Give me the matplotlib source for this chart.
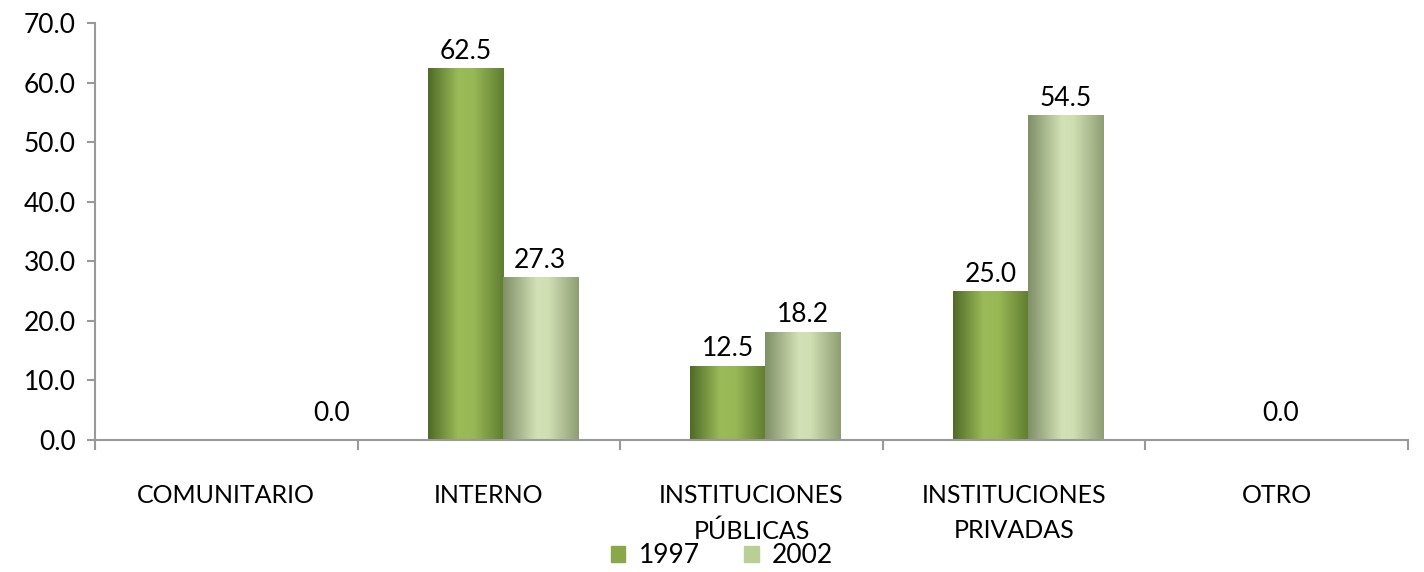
import numpy as np
import matplotlib
matplotlib.use("Agg")
import matplotlib.pyplot as plt
from matplotlib.colors import LinearSegmentedColormap

# data
categories = ["COMUNITARIO", "INTERNO", "INSTITUCIONES\nPÚBLICAS", "INSTITUCIONES\nPRIVADAS", "OTRO"]
years = ["1997", "2002"]
vals_1997 = [np.nan, 62.5, 12.5, 25.0, np.nan]
vals_2002 = [0.0, 27.3, 18.2, 54.5, 0.0]
yticks = [0, 10, 20, 30, 40, 50, 60, 70]

plt.rcParams["font.family"] = ["Lato", "DejaVu Sans"]

# cylinder-like shading for each series
cmap_97 = LinearSegmentedColormap.from_list(
    "c97", [(0, "#4f6a26"), (0.4, "#9bbb59"), (0.6, "#98b856"), (1, "#5f7d2f")])
cmap_02 = LinearSegmentedColormap.from_list(
    "c02", [(0, "#7f8f66"), (0.45, "#d3e2b6"), (0.6, "#d0dfb2"), (1, "#8e9e74")])
legend_cols = ["#8aa84a", "#b9cf93"]

fig = plt.figure(figsize=(14.24, 5.72), dpi=100)
ax = fig.add_axes([0.0667, 0.2308, 0.9221, 0.729])

n = len(categories)
centers = np.arange(n) + 0.5
shift = 0.053
w = 0.286

grad = np.linspace(0, 1, 256).reshape(1, -1)
series = [(vals_1997, cmap_97, -w / 2), (vals_2002, cmap_02, w / 2)]
for k, (vals, cm, off) in enumerate(series):
    xs = centers + shift + off
    hv = np.nan_to_num(vals)
    bars = ax.bar(xs, hv, width=w, color="none", edgecolor="none", zorder=2)
    for b, v in zip(bars, hv):
        if v <= 0:
            continue
        x0 = b.get_x()
        im = ax.imshow(grad, cmap=cm, aspect="auto", extent=[x0, x0 + w, 0, v],
                       interpolation="bicubic", zorder=2)
        im.set_clip_path(b)

# value labels (zero labels nudged sideways as in the source)
nudge = {0: 54, 4: -48}
for vals, off in [(vals_1997, -w / 2), (vals_2002, w / 2)]:
    for i, v in enumerate(vals):
        if np.isnan(v):
            continue
        dx = nudge.get(i, 0) * 0.72 if v == 0 else 0
        dy = 10 if v == 0 else 3
        ax.annotate(f"{v:.1f}", (centers[i] + shift + off, v), xytext=(dx, dy),
                    textcoords="offset points", ha="center", va="bottom", fontsize=19)

ax.set_xlim(0, n)
ax.set_ylim(0, 70)
ax.set_yticks(yticks)
ax.set_yticklabels([f"{t:.1f}" for t in yticks], fontsize=19)
ax.set_xticks(np.arange(n + 1))
ax.set_xticklabels([])
ax.set_xticks(centers, minor=True)
ax.set_xticklabels(categories, minor=True, fontsize=18, linespacing=1.6)
ax.tick_params(axis="x", which="major", length=7, color="#999999", width=1.5, direction="out")
ax.tick_params(axis="x", which="minor", length=0, pad=32)
ax.tick_params(axis="y", length=6, color="#999999", width=1.5, pad=8)

for s in ["top", "right"]:
    ax.spines[s].set_visible(False)
for s in ["left", "bottom"]:
    ax.spines[s].set_color("#999999")
    ax.spines[s].set_linewidth(1.5)

handles = [plt.Rectangle((0, 0), 1, 1, color=c) for c in legend_cols]
fig.legend(handles, years, loc="center", bbox_to_anchor=(0.507, 0.028), ncol=2,
           frameon=False, fontsize=19, handlelength=0.55, handleheight=0.55,
           columnspacing=1.7, handletextpad=0.5, borderpad=0)

fig.savefig("out.png", dpi=100)
